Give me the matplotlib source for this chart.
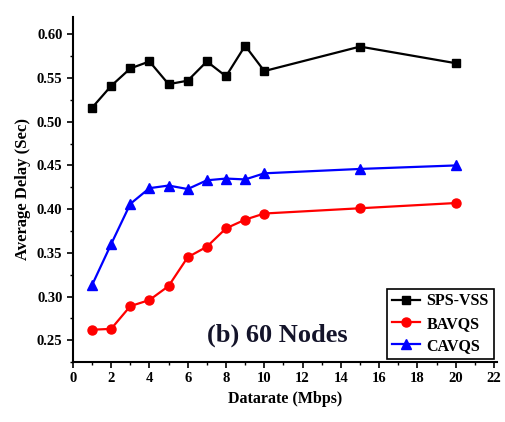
import numpy as np
import matplotlib
matplotlib.rcParams['font.family'] = 'Liberation Serif'
matplotlib.rcParams['font.weight'] = 'bold'
import matplotlib.pyplot as plt
from matplotlib.ticker import MultipleLocator

datarate = [1, 2, 3, 4, 5, 6, 7, 8, 9, 10, 15, 20]
sps_vss = [0.516, 0.541, 0.561, 0.569, 0.543, 0.547, 0.569, 0.552, 0.587, 0.558, 0.586, 0.567]
bavqs   = [0.262, 0.263, 0.289, 0.296, 0.312, 0.345, 0.357, 0.378, 0.388, 0.395, 0.401, 0.407]
cavqs   = [0.313, 0.360, 0.406, 0.424, 0.427, 0.423, 0.433, 0.435, 0.434, 0.441, 0.446, 0.450]

fig = plt.figure(figsize=(5.06, 4.22), dpi=100)
ax = fig.add_axes([0.144, 0.142, 0.838, 0.818])

ax.plot(datarate, sps_vss, color='black', marker='s', ms=6, lw=1.6, label='SPS-VSS')
ax.plot(datarate, bavqs, color='red', marker='o', ms=6.5, lw=1.6, label='BAVQS')
ax.plot(datarate, cavqs, color='blue', marker='^', ms=7.5, lw=1.6, label='CAVQS')

ax.set_xlim(0, 22.15)
ax.set_ylim(0.225, 0.62)
ax.xaxis.set_major_locator(MultipleLocator(2))
ax.xaxis.set_minor_locator(MultipleLocator(1))
ax.yaxis.set_major_locator(MultipleLocator(0.05))
ax.yaxis.set_minor_locator(MultipleLocator(0.025))
ax.yaxis.set_major_formatter(matplotlib.ticker.FormatStrFormatter('%.2f'))
ax.tick_params(which='major', direction='out', length=4, width=1.2, labelsize=10.5)
ax.tick_params(which='minor', direction='out', length=2.5, width=1.0)
ax.spines[['top', 'right']].set_visible(False)
ax.spines[['left', 'bottom']].set_linewidth(1.5)

ax.set_xlabel('Datarate (Mbps)', fontsize=11.5, fontweight='bold')
ax.set_ylabel('Average Delay (Sec)', fontsize=12, fontweight='bold')

ax.text(0.317, 0.06, '(b) 60 Nodes', transform=ax.transAxes, fontsize=19,
        fontweight='bold', color='#14142a')

leg = ax.legend(loc='lower right', fontsize=11.5, fancybox=False, framealpha=1,
                edgecolor='black', handlelength=1.8, borderpad=0.3,
                labelspacing=0.4, handletextpad=0.4, borderaxespad=0.2,
                bbox_to_anchor=(1.0, 0.0))
leg.get_frame().set_linewidth(1.2)

plt.savefig('out.png', dpi=100, facecolor='white')
